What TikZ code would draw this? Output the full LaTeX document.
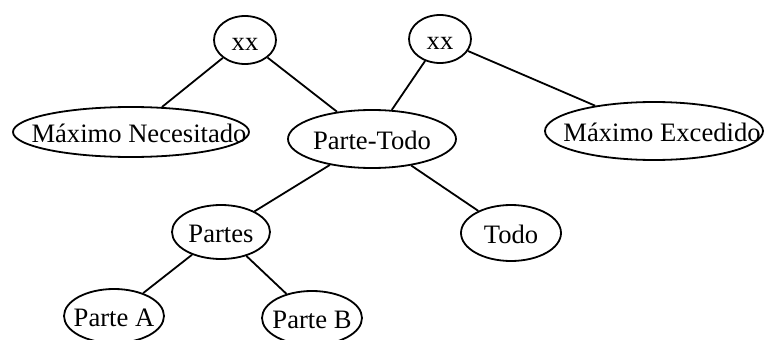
\documentclass[tikz,border=0pt]{standalone}
\usepackage{fontspec}
\setmainfont{Liberation Serif}
\usetikzlibrary{shapes.geometric}
\newcommand{\ovaltxt}[2][0pt]{\makebox[0pt]{\hspace*{#1}#2\hspace*{-#1}}}
\tikzset{
    oval/.style = {draw, ellipse, line width=1.8pt, inner sep=0pt, text height=22pt, text depth=2pt,
                   font=\fontsize{26.6}{30}\selectfont},
    branch/.style = {line width=1.8pt},
}

\begin{document}
\begin{tikzpicture}[x=1pt, y=-1pt]
\useasboundingbox (0,0) rectangle (764,340);
% top row
\node[oval, minimum width=62pt, minimum height=48pt] (xxa) at (245,40) {\ovaltxt{xx}};
\node[oval, minimum width=62pt, minimum height=48pt] (xxb) at (440,39) {\ovaltxt{xx}};
% middle row
\node[oval, minimum width=236pt, minimum height=50pt] (maxnec) at (131,132) {\ovaltxt[8pt]{Máximo Necesitado}};
\node[oval, minimum width=168pt, minimum height=58pt] (partetodo) at (372,139) {\ovaltxt{Parte-Todo}};
\node[oval, minimum width=218pt, minimum height=58pt] (maxexc) at (654,131) {\ovaltxt[8pt]{Máximo Excedido}};
% lower rows
\node[oval, minimum width=98pt, minimum height=54pt] (partes) at (221,232) {\ovaltxt{Partes}};
\node[oval, minimum width=100pt, minimum height=56pt] (todo) at (511,233) {\ovaltxt{Todo}};
\node[oval, minimum width=100pt, minimum height=54pt] (partea) at (114,316) {\ovaltxt{Parte A}};
\node[oval, minimum width=100pt, minimum height=54pt] (parteb) at (312,318) {\ovaltxt{Parte B}};
% branches
\draw[branch] (xxa) -- (maxnec);
\draw[branch] (xxa) -- (partetodo);
\draw[branch] (xxb) -- (partetodo);
\draw[branch] (xxb) -- (maxexc);
\draw[branch] (partetodo) -- (partes);
\draw[branch] (partetodo) -- (todo);
\draw[branch] (partes) -- (partea);
\draw[branch] (partes) -- (parteb);
\end{tikzpicture}
\end{document}
